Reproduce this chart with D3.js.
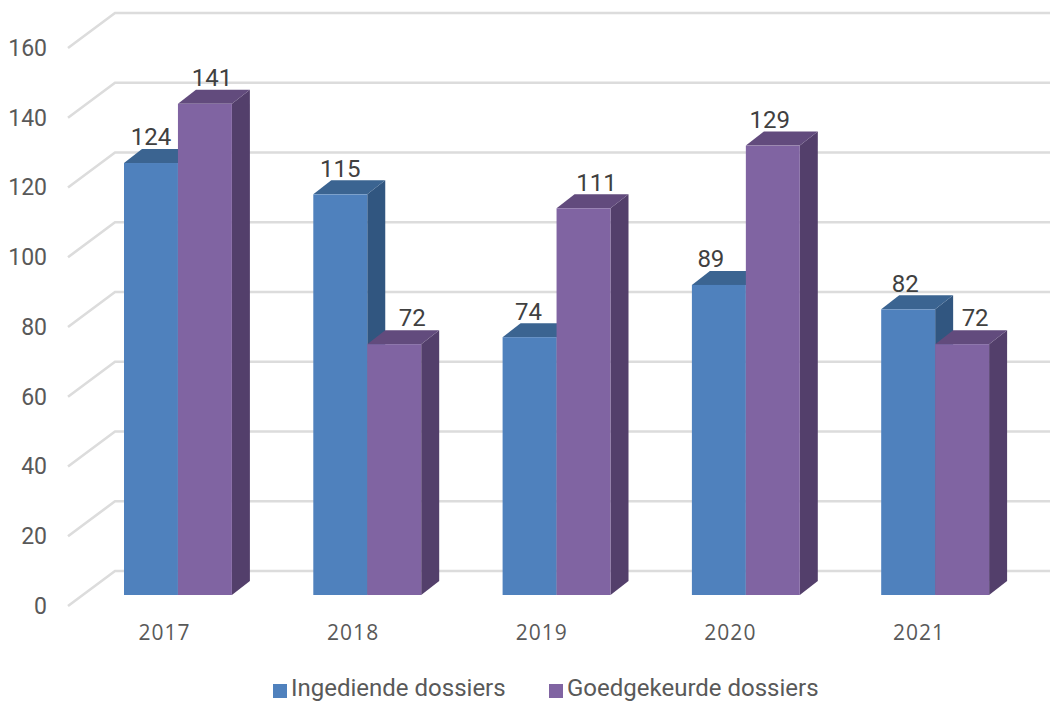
<!DOCTYPE html>
<html>
<head>
<meta charset="utf-8">
<script src="https://cdn.jsdelivr.net/npm/d3@7"></script>
<style>
  html, body { margin: 0; padding: 0; background: #fff; overflow: hidden; }
  svg { display: block; }
</style>
</head>
<body>
<script>
// values
var years = ["2017", "2018", "2019", "2020", "2021"];
var ingediend = [124, 115, 74, 89, 82];
var goedgekeurd = [141, 72, 111, 129, 72];
var yTicks = [0, 20, 40, 60, 80, 100, 120, 140, 160];
var seriesNames = ["Ingediende dossiers", "Goedgekeurde dossiers"];

var width = 1050, height = 702;
var depthX = 18, depthY = 14;   // bar depth
var floorX = 47, floorY = 35;   // side wall depth

var colors = [
    { front: "#4f81bd", top: "#3b6491", side: "#315680" },
    { front: "#8064a2", top: "#624b7d", side: "#533f6b" }
];

// the labels were dragged by hand in the original, so they sit off center
var labelShift = [[0, 0, -1, -8, -3], [7, 18, 13, -3, 13]];

var svg = d3.select("body").append("svg")
    .attr("width", width)
    .attr("height", height);

var xScale = d3.scaleBand()
    .domain(years)
    .range([83.3, 1029.8])
    .paddingInner(0.43)
    .paddingOuter(0.215);

var serieScale = d3.scaleBand()
    .domain([0, 1])
    .range([0, xScale.bandwidth()]);

// year labels have a slightly tighter step than the bars
var xLabelScale = d3.scalePoint().domain(years).range([164, 918.5]);

var yScale = d3.scaleLinear().domain([0, 160]).range([595, 37.6]);
// tick labels sit on the front of the side wall, lower than the bars
var yFront = d3.scaleLinear().domain([0, 160]).range([606, 48]);

// back wall + side wall lines
var grid = svg.append("g")
    .attr("fill", "none")
    .attr("stroke", "#dcdcdc")
    .attr("stroke-width", 2.6);

grid.selectAll("path")
    .data(yTicks)
    .enter()
    .append("path")
    .attr("d", function(d) {
        var y0 = yFront(d);
        return "M68," + y0 + "L" + (68 + floorX) + "," + (y0 - floorY) + "H" + width;
    });

// draw bars, blue first so the purple one overlaps it
var bars = [];
years.forEach(function(year, i) {
    bars.push({ year: year, serie: 0, value: ingediend[i] });
    bars.push({ year: year, serie: 1, value: goedgekeurd[i] });
});

var barG = svg.selectAll(".bar")
    .data(bars)
    .enter()
    .append("g")
    .attr("class", "bar");

function barX(d) { return xScale(d.year) + serieScale(d.serie); }

barG.append("path")
    .attr("fill", function(d) { return colors[d.serie].side; })
    .attr("d", function(d) {
        var x = barX(d) + serieScale.bandwidth(), t = yScale(d.value), b = yScale(0);
        return "M" + x + "," + t + "l" + depthX + "," + (-depthY) + "V" + (b - depthY) + "L" + x + "," + b + "Z";
    });

barG.append("path")
    .attr("fill", function(d) { return colors[d.serie].top; })
    .attr("d", function(d) {
        var x = barX(d), t = yScale(d.value), w = serieScale.bandwidth();
        return "M" + x + "," + t + "l" + depthX + "," + (-depthY) + "h" + w + "l" + (-depthX) + "," + depthY + "Z";
    });

barG.append("rect")
    .attr("fill", function(d) { return colors[d.serie].front; })
    .attr("x", barX)
    .attr("y", function(d) { return yScale(d.value); })
    .attr("width", serieScale.bandwidth())
    .attr("height", function(d) { return yScale(0) - yScale(d.value); });

// value labels
svg.selectAll(".valueLabel")
    .data(bars)
    .enter()
    .append("text")
    .attr("class", "valueLabel")
    .attr("x", function(d) {
        return barX(d) + serieScale.bandwidth() / 2 + labelShift[d.serie][years.indexOf(d.year)];
    })
    .attr("y", function(d) { return yScale(d.value) - 17.7; })
    .attr("text-anchor", "middle")
    .attr("font-family", "Roboto")
    .attr("font-size", 24)
    .attr("fill", "#404040")
    .text(function(d) { return d.value; });

// axes
var yAxis = svg.append("g")
    .attr("transform", "translate(47,0)")
    .call(d3.axisLeft(yFront).tickValues(yTicks).tickSize(0).tickPadding(0));
yAxis.select(".domain").remove();
yAxis.selectAll("text")
    .attr("font-family", "Roboto")
    .attr("font-size", 23)
    .attr("fill", "#595959");

var xAxis = svg.append("g")
    .attr("transform", "translate(0,625)")
    .call(d3.axisBottom(xLabelScale).tickSize(0).tickPadding(0));
xAxis.select(".domain").remove();
xAxis.selectAll("text")
    .attr("font-family", "Open Sans")
    .attr("font-size", 21)
    .attr("letter-spacing", 1)
    .attr("fill", "#595959");

// legend
var legendX = [273, 549];
var legend = svg.selectAll(".legend")
    .data(seriesNames)
    .enter()
    .append("g")
    .attr("class", "legend")
    .attr("transform", function(d, i) { return "translate(" + legendX[i] + ",684)"; });

legend.append("rect")
    .attr("width", 14)
    .attr("height", 14)
    .attr("fill", function(d, i) { return colors[i].front; });

// baseline a bit higher so the descenders stay inside the picture
legend.append("text")
    .attr("x", 18)
    .attr("y", 12)
    .attr("font-family", "Roboto")
    .attr("font-size", 24)
    .attr("fill", "#595959")
    .text(function(d) { return d; });
</script>
</body>
</html>
